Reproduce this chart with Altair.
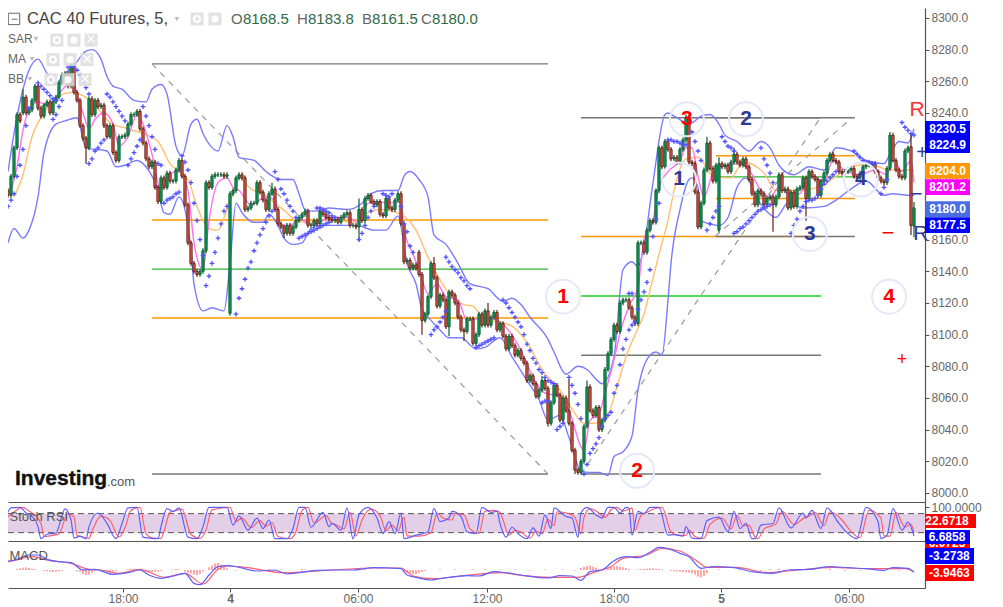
import altair as alt
import pandas as pd

FONT = "Liberation Sans"
LEFT_I, RIGHT_I = 1.0, 306.67
DOM_MAIN = [7994.3, 8306.3]
DOM_RSI = [-6.3, 116.7]
DOM_MACD = [-54, 87]

# ---------- candles (closing prices by stretch of the chart) ----------
closes_a = [8191,8188,8200,8218,8239,8235,8250,8240,8242,8248,8257,8243,8238,8245,8247,8240,8247,8250,8259,8264,
            8265,8257,8270,8253,8248,8232,8224,8218,8249,8239,8248,8244,8245,8232,8225,8232,8215,8210,8225,8225,
            8226,8233,8239,8239,8241,8230,8221,8211,8206,8209,8193,8184,8199,8193,8202,8197,8197,8204,8210,8200,
            8182,8158,8145,8140,8138,8140,8153,8196,8193,8200,8201,8201,8201,8200,8201,8189]
closes_b = [8191,8199,8201,8199,8179,8180,8183,8183,8196,8190,8185,8179,8189,8192,8179,8170,8168,8164,8169,8164,
            8168,8172,8174,8176,8178,8169,8169,8172,8170,8178,8176,8174,8173,8172,8173,8171,8174,8176,8177,8169,
            8169,8168,8179,8172,8186,8188,8184,8182,8184,8176,8175,8186,8180,8179,8185,8189,8170,8146,8147,8142,
            8144,8142,8138,8109,8113,8124,8145,8136,8118,8125,8122,8105,8127,8125,8120,8111,8103,8102,8110]
closes_c = [8110,8094.5,8100,8113,8106,8115,8106,8111,8114,8103,8107,8099,8091,8099,8093,8087,8090,8085,8082,8071,
            8074,8069,8061,8065,8071,8066,8044,8057,8068,8062,8046,8060,8052,8044,8027,8014.5,8013,8020,8042,8067,
            8052,8049,8054,8040,8046,8078,8088,8097,8106,8102,8120,8122,8122,8117,8111,8107,8158]
closes_d = [8158,8152,8166,8172,8171,8191,8218,8206,8222,8217,8211,8212,8209,8217,8223,8237,8209,8208,8190,8168,
            8183,8204,8221,8205,8197,8207,8208,8206,8207,8203,8209,8214,8209,8207,8211,8206,8198,8189,8182,8191,
            8189,8182,8186]
closes_e = [8187,8182,8187,8201,8191,8192,8180,8190,8181,8192,8193,8199,8186,8203,8200,8198,8188,8197,8202,8210,
            8214,8210,8209,8203,8202,8203,8204,8205,8200,8199,8202,8206,8207,8207,8208,8203,8199,8197,8196,8205,
            8226,8210,8204,8200,8199,8216,8218,8169,8180]
closes = closes_a + closes_b + closes_c + closes_d + closes_e
open_gaps = {0: 8186, 5: 8239, 6: 8240, 75: 8113.5, 138: 8152, 211: 8107, 238: 8166, 302: 8218.7, 303: 8168.5}
high_wicks = {6: 8255, 22: 8271, 89: 8196, 118: 8186, 143: 8149, 161: 8120, 179: 8074, 188: 8072, 194: 8071,
              227: 8239, 234: 8225, 238: 8212, 243: 8218, 295: 8228, 302: 8227, 303: 8183.8}
low_wicks = {27: 8208, 93: 8161, 118: 8159, 139: 8100, 148: 8099, 153: 8096, 181: 8042, 190: 8012,
             256: 8165, 267: 8172, 302: 8163, 303: 8161.5}

# ---------- parabolic SAR: (first bar, prices) ----------
sar_runs = [
    (1, [8181,8185,8189,8200,8207,8217,8232,8243]),
    (11, [8259,8257,8255,8253,8251,8249,8248]),
    (16, [8236,8239,8244,8248,8261,8269]),
    (22, [8270,8269,8267,8264,8260,8256,8252]),
    (28, [8208,8211,8216,8218,8221,8223]),
    (34, [8252,8250,8247,8244,8241,8238,8235]),
    (41, [8207,8211,8215,8219,8223]),
    (46, [8244,8238,8232,8225,8217,8208,8207]),
    (53, [8183,8185,8186,8187,8189,8190]),
    (59, [8213,8209,8204,8196,8183,8172,8160,8150]),
    (67, [8131,8137,8145,8152,8161,8170,8178,8181]),
    (77, [8113,8123,8129,8135,8142,8146,8153,8158,8163,8167,8171,8175,8178]),
    (90, [8203,8198,8192,8189,8185,8181,8178,8174]),
    (98, [8161,8162,8163,8164,8165,8166,8167,8168,8169,8170,8171]),
    (104, [8180,8180,8179,8178,8177,8175,8174]),
    (118, [8160,8164,8169,8174,8178,8181]),
    (126, [8189,8188,8187,8189]),
    (132, [8181,8170,8165,8156,8152]),
    (142, [8100,8103,8105,8108,8111,8115]),
    (147, [8149,8146,8143,8141,8139,8136,8134,8131,8129]),
    (157, [8092,8093,8094,8095,8096,8097,8098]),
    (166, [8122,8120,8117,8114,8111,8108,8105,8100,8094,8090,8085,8082,8078,8076,8073,8071,8070,8069]),
    (179, [8057,8058,8058]),
    (184, [8040,8042,8044]),
    (188, [8073,8068,8063,8056,8047]),
    (193, [8012,8018,8025,8028,8031,8035,8042,8047,8049,8051,8063,8068,8081,8091,8097,8103,8106,8108,8116,8122,8127,8133,8141,8162,8173,8183]),
    (208, [8126,8126]),
    (221, [8223,8223,8222,8222,8221,8220,8220]),
    (229, [8228,8222,8216,8210]),
    (234, [8166,8170,8174,8178,8181]),
    (239, [8225,8222,8219,8218,8216]),
    (243, [8164,8165,8167,8168,8170,8172,8174,8176,8178,8179,8180,8181,8182]),
    (252, [8218,8211,8207,8202,8196]),
    (262, [8164,8169,8173,8178,8181,8184,8185,8185,8186,8188,8192,8195,8197,8199,8201,8203]),
    (283, [8216,8214,8212,8210,8209,8209,8208,8208]),
    (292, [8189,8193,8198]),
    (299, [8234,8231,8229,8227,8226]),
]

# ---------- Bollinger bands and moving averages ----------
bb_up_i = [1,3,6,8,11,14,17,19,23,27,29,32,34,36,39,43,47,49,52,54,57,59,62,64,66,71,74,76,78,83,87,92,96,98,100,103,108,114,119,122,126,131,133,135,138,141,143,147,151,155,161,166,169,172,175,181,183,187,191,194,197,199,203,206,209,211,213,216,220,221,223,224,228,230,232,235,238,240,244,248,252,255,258,260,263,268,273,277,282,287,293,295,298,301,303]
bb_up_p = [8203,8227,8255,8267,8274,8265,8258,8263,8270,8279,8280,8274,8263,8257,8255,8248,8247,8255,8258,8252,8219,8213,8233,8236,8227,8216,8232,8225,8212,8210,8203,8198,8198,8189,8179,8178,8180,8179,8183,8189,8191,8191,8200,8203,8198,8187,8163,8157,8145,8132,8129,8121,8123,8119,8111,8097,8089,8075,8080,8078,8072,8069,8086,8141,8146,8143,8156,8196,8239,8240,8238,8237,8233,8235,8238,8239,8233,8226,8222,8216,8222,8218,8207,8203,8201,8206,8204,8218,8216,8210,8208,8214,8222,8221,8230]
bb_lo_i = [1,3,6,8,11,13,17,20,24,27,34,37,40,44,47,51,53,55,58,60,62,63,66,69,73,75,77,79,83,86,88,91,93,96,99,102,105,112,117,123,127,131,134,137,139,142,145,148,152,157,160,165,169,174,178,181,185,188,192,195,198,201,203,206,209,211,215,217,219,221,222,225,228,229,231,232,235,238,241,244,247,251,255,257,261,266,273,277,282,287,293,296,301,303]
bb_lo_p = [8158,8167,8161,8166,8187,8215,8233,8235,8237,8218,8216,8206,8207,8210,8206,8191,8177,8176,8187,8179,8153,8132,8115,8117,8115,8145,8183,8177,8171,8171,8176,8169,8161,8157,8158,8167,8169,8169,8169,8166,8166,8175,8145,8132,8116,8109,8103,8098,8098,8091,8092,8098,8086,8071,8059,8046,8049,8035,8014,8013,8013,8011,8023,8026,8036,8065,8087,8089,8087,8122,8145,8179,8198,8199,8193,8172,8170,8169,8174,8193,8199,8185,8176,8174,8183,8180,8181,8185,8192,8197,8188,8189,8188,8188]
ma_fast_i = [2,4,6,8,11,14,17,21,23,24,26,28,30,33,36,38,41,44,46,49,52,55,58,61,63,66,68,71,74,76,78,82,87,90,92,95,98,103,108,114,118,121,124,128,132,133,136,138,141,144,147,151,154,160,165,172,176,180,185,188,193,195,198,200,203,205,208,211,213,216,218,221,225,227,229,231,233,236,240,245,248,252,255,258,261,265,268,273,276,279,285,290,294,296,299,302,303]
ma_fast_p = [8191,8206,8229,8242,8247,8245,8250,8258,8259,8251,8240,8230,8236,8240,8233,8219,8225,8239,8233,8214,8191,8202,8203,8191,8158,8141,8172,8196,8199,8193,8191,8182,8187,8185,8169,8169,8173,8169,8174,8174,8171,8183,8184,8183,8184,8166,8151,8141,8126,8132,8124,8122,8109,8111,8108,8090,8073,8063,8061,8052,8027,8046,8050,8063,8084,8101,8118,8130,8160,8172,8193,8203,8210,8218,8218,8200,8187,8202,8207,8208,8204,8191,8187,8193,8189,8189,8200,8197,8210,8205,8201,8204,8201,8211,8203,8210,8196]
ma_slow_i = [3,6,9,13,17,22,26,30,35,41,46,51,55,61,64,68,71,74,76,78,82,86,90,94,97,102,108,116,121,125,132,137,141,144,148,153,156,160,165,170,175,179,185,189,193,196,200,204,207,211,213,215,219,221,223,227,231,236,242,246,253,257,264,271,277,284,289,295,303]
ma_slow_p = [8187,8201,8225,8240,8249,8253,8251,8245,8234,8230,8227,8222,8208,8198,8181,8167,8166,8179,8189,8199,8192,8189,8183,8177,8172,8171,8173,8171,8177,8179,8176,8166,8149,8138,8126,8119,8118,8109,8108,8104,8092,8078,8065,8053,8044,8044,8046,8067,8086,8104,8113,8128,8158,8172,8191,8211,8212,8200,8199,8209,8202,8191,8191,8193,8200,8207,8207,8204,8204]

# ---------- studies ----------
rsi_blue_i = [0,2,5,7,9,11,12,14,17,20,22,23,25,27,28,31,34,37,39,41,44,46,48,51,52,54,56,58,61,64,66,68,74,76,78,81,84,86,88,90,94,96,98,100,102,106,108,109,112,114,116,118,121,124,126,128,130,132,133,137,141,143,145,148,149,152,154,157,159,162,164,165,167,169,171,174,176,178,180,182,183,187,189,191,192,194,197,199,201,203,205,207,208,209,211,213,215,218,221,223,226,227,229,232,234,238,241,243,245,247,249,250,252,256,258,262,266,267,269,272,274,278,281,284,287,291,292,294,296,299,301,303]
rsi_blue_v = [62,98,100,82,71,39,1,15,19,95,60,3,9,1,39,82,49,1,49,98,100,6,3,1,39,96,87,98,6,1,39,100,100,44,73,28,66,33,60,1,1,33,100,100,37,84,39,49,28,98,1,76,100,66,17,55,17,82,1,12,23,96,55,66,87,71,23,17,100,84,87,49,6,37,17,1,35,9,76,33,98,71,66,6,82,100,76,66,100,100,82,100,98,12,87,80,100,100,12,14,9,39,3,1,58,69,23,87,33,49,1,1,44,49,98,35,82,66,90,33,98,49,17,1,100,55,1,12,96,28,53,9]
rsi_red_i = [1,3,6,8,10,12,13,15,18,21,23,24,26,28,29,32,35,38,40,42,45,47,49,52,53,55,57,59,62,65,67,69,75,77,79,82,85,87,89,91,95,97,99,101,103,107,109,110,113,115,117,119,122,125,127,129,131,133,134,138,142,144,146,149,150,153,155,158,160,163,165,166,168,170,172,175,177,179,181,183,184,188,190,192,193,195,198,200,202,204,206,208,209,210,212,214,216,219,222,224,227,228,230,233,235,239,242,244,246,248,250,251,253,257,259,263,267,268,270,273,275,279,282,285,288,292,293,295,297,300,302,303]
rsi_red_v = [70,85,100,88,75,48,8,10,17,80,70,12,6,2,25,72,58,6,36,90,100,16,4,2,24,84,90,94,14,2,28,92,100,55,66,36,58,40,52,8,1,24,90,100,50,74,48,46,32,84,10,60,94,74,26,44,26,68,10,9,20,82,66,60,80,76,32,18,88,90,84,60,12,28,22,3,25,16,62,42,86,80,68,16,68,96,82,68,92,100,88,94,98,28,74,84,94,100,22,13,11,28,8,2,46,66,32,74,42,44,6,1,32,48,88,46,70,72,84,42,86,60,24,4,90,66,10,9,84,38,46,20]
macd_blue_i = [0,4,8,11,14,18,22,26,30,36,41,45,48,52,56,60,63,65,68,71,74,78,84,90,94,98,104,109,116,123,132,134,137,142,147,154,158,163,165,172,181,185,189,192,195,199,203,207,211,215,218,221,225,228,232,236,243,249,256,261,268,275,281,287,293,296,301,303]
macd_blue_v = [25,32,45,45,32,25,22,0,2,-13,-8,0,-15,-25,-18,-10,-40,-44,-15,10,13,8,-3,0,-12,-8,-1,0,0,7,4,-15,-22,-30,-23,-17,-18,-5,-6,-15,-24,-17,-18,-31,-5,0,28,40,37,53,68,64,50,40,5,10,7,-5,-10,0,2,10,7,4,-1,7,5,-7]
macd_red_i = [0,4,9,15,22,28,32,38,45,53,60,66,71,74,80,93,109,123,132,136,143,154,165,172,182,191,197,202,206,214,219,225,231,234,244,254,261,276,287,300,303]
macd_red_v = [22,30,40,28,20,2,0,-10,2,-22,-10,-42,2,12,8,-8,0,6,6,-18,-26,-16,-8,-16,-22,-22,-5,10,35,45,65,57,25,8,8,-8,-3,8,4,4,-5]
hist_i = [4,5,6,7,8,9,10,13,14,15,16,17,18,19,24,25,26,27,28,29,30,33,34,35,36,37,41,42,43,44,45,47,48,49,50,51,52,56,57,58,60,61,62,63,64,65,66,68,69,70,71,72,73,74,77,80,88,92,99,100,103,110,115,120,133,134,135,136,137,138,139,140,145,150,156,160,165,170,175,180,186,190,192,193,194,195,196,197,198,201,202,203,204,205,206,207,208,211,212,213,214,215,216,217,218,219,222,223,224,225,226,227,228,229,230,231,232,233,234,238,245,247,250,252,255,258,262,265,270,275,280,285,292,298]
hist_v = [3,5,7,8,6,4,3,-3,-4,-5,-6,-5,-4,-3,-4,-6,-12,-15,-14,-8,-3,-3,-5,-6,-5,-3,3,4,4,3,2,-4,-5,-6,-6,-5,-3,2,3,2,-5,-8,-10,-14,-15,-12,-5,8,14,20,21,16,10,5,-2,2,3,2,3,2,-2,2,2,2,-6,-8,-10,-13,-12,-9,-6,-3,2,2,2,2,2,2,-2,2,2,-2,6,9,12,13,10,7,3,6,9,11,12,10,8,6,3,2,3,3,4,5,5,4,3,2,-3,-4,-4,-5,-6,-7,-8,-10,-14,-20,-22,-18,-10,2,-2,-3,-3,-4,3,4,3,-2,2,3,-2,-2,2,-2]

# ---------- drawn levels ----------
levels = [
    (49, 181, 8271, "#777777"), (49, 181, 8172.4, "#ff9800"), (49, 181, 8141.4, "#2fb52f"),
    (49, 181, 8110.5, "#ff9800"), (49, 181, 8012, "#777777"),
    (192, 272, 8237, "#777777"), (192, 272, 8162, "#ff9800"), (192, 272, 8124.4, "#22cc22"),
    (192, 272, 8087, "#777777"), (192, 272, 8012, "#777777"),
    (237, 283.3, 8237, "#777777"), (237, 283.3, 8213, "#ff9800"), (237, 283.3, 8199.6, "#2fb52f"),
    (237, 283.3, 8186, "#ff9800"), (237, 283.3, 8162, "#777777"),
]
diagonals = [(49, 181, 8271, 8012), (192, 272, 8012, 8237.5), (236.7, 282.7, 8162, 8237.5)]
circles = [("1", 186, 8124, "#ff0000"), ("2", 210.7, 8014, "#ff0000"), ("3", 227.3, 8236, "#ff0000"),
           ("4", 294.7, 8124, "#ff0000"), ("1", 224.7, 8198, "#2f3a96"), ("2", 247, 8236, "#2f3a96"),
           ("3", 268.3, 8163.5, "#2f3a96"), ("4", 285.3, 8198, "#2f3a96")]
marks_txt = [("R", 304, 8242, "#ff3333", 21), ("R", 305.3, 8163.5, "#2f3a96", 21), ("−", 294.3, 8164, "#ff0000", 22),
             ("+", 299, 8084, "#ff0000", 18), ("+", 305.7, 8215, "#2f3a96", 20), ("−", 303.7, 8189, "#2f3a96", 22)]
tags_main = [("8230.5", 8229.9, "#0000ff"), ("8224.9", 8219.8, "#0000ff"), ("8204.0", 8203.4, "#ff9800"),
             ("8201.2", 8193.2, "#ff00ff"), ("8180.0", 8179.3, "#4a6ee0"), ("8177.5", 8169.2, "#0000ff")]
tag_hidden = [("6.0725", -12.6, "#ff0000", 321.67)]
tags_rsi = [("22.6718", 56.8, "#ff0000", 323.67), ("6.6858", 6.3, "#0000ff", 321.67)]
tags_macd = [("-3.2738", 42, "#0000ff", 323), ("-3.9463", -9, "#ff0000", 323)]
hdr_txt = [("CAC 40 Futures, 5,", 7.3, 16.5, "#444444"), ("O", 75.3, 15, "#666666"), ("8168.5", 79.3, 15, "#2a6a48"),
           ("H", 97.3, 15, "#666666"), ("8183.8", 101, 15, "#2a6a48"), ("B", 119, 15, "#666666"),
           ("8161.5", 122.3, 15, "#2a6a48"), ("C", 138.7, 15, "#666666"), ("8180.0", 142.3, 15, "#2a6a48")]
legend_txt = [("SAR", 1, 8286.7), ("MA", 1, 8274), ("BB", 1, 8261.5)]
eye_i = [64, 17.3, 16, 15.3]
eye_p = [8299.4, 8286, 8273.7, 8261]
gear_i = [70, 23, 21.7, 21]
gear_p = [8299.4, 8286, 8273.7, 8261]
close_i = [28.7, 27.3, 26.7]
close_p = [8286, 8273.7, 8261]
arrow_i = [57.3, 10.3, 9, 8.3]
arrow_p = [8299.4, 8286.7, 8274, 8261.5]
x_ticks = [39.33, 75, 117.67, 160.67, 203, 238.67, 281.33]
x_labels = ["18:00", "4", "06:00", "12:00", "18:00", "5", "06:00"]
y_ticks = list(range(8000, 8301, 20))

DOMAIN = dict(domainColor="#555555", domainWidth=1.2, grid=False)
ax_flat_x = alt.Axis(labels=False, ticks=False, **DOMAIN)
label_map = "{" + ",".join(f"'{v}':'{t}'" for v, t in zip(x_ticks, x_labels)) + "}[datum.value]"
ax_macd_x = alt.Axis(values=x_ticks, labelExpr=label_map, tickSize=4, tickColor="#555555", labelColor="#666666",
                     labelFontSize=12, labelFont=FONT, labelPadding=1,
                     labelFontWeight=alt.expr("datum.value==75||datum.value==238.67?'bold':'normal'"), **DOMAIN)
ax_main_y = alt.Axis(orient="right", values=y_ticks, format=".1f", labelColor="#666666", labelFontSize=12, tickSize=4,
                     tickColor="#555555", labelPadding=2, labelFont=FONT, **DOMAIN)
ax_rsi_y = alt.Axis(orient="right", values=[100], format=".4f", labelColor="#666666", labelFontSize=12, tickSize=4,
                    tickColor="#555555", labelPadding=2, labelFont=FONT, **DOMAIN)
ax_macd_y = alt.Axis(orient="right", values=[42, -9], labels=False, tickSize=4, tickColor="#555555", **DOMAIN)
AX_X = {id(DOM_MAIN): ax_flat_x, id(DOM_RSI): ax_flat_x, id(DOM_MACD): ax_macd_x}
AX_Y = {id(DOM_MAIN): ax_main_y, id(DOM_RSI): ax_rsi_y, id(DOM_MACD): ax_macd_y}


def X(dom, f="i"):
    return alt.X(f"{f}:Q", scale=alt.Scale(domain=[LEFT_I, RIGHT_I], nice=False, zero=False, padding=0),
                 axis=AX_X[id(dom)], title=None)


def Y(dom, f="p"):
    return alt.Y(f"{f}:Q", scale=alt.Scale(domain=dom, nice=False, zero=False, padding=0), axis=AX_Y[id(dom)], title=None)


def line(xs, ys, color, dom, width=1.4):
    df = pd.DataFrame(dict(i=xs, p=ys))
    return alt.Chart(df).mark_line(color=color, strokeWidth=width, clip=True, interpolate="monotone").encode(
        x=X(dom), y=Y(dom))


def txt(dom, label, i, p, size, color, **kw):
    df = pd.DataFrame(dict(t=[label], i=[i], p=[p]))
    return alt.Chart(df).mark_text(font=FONT, fontSize=size, align="left", baseline="middle", color=color, **kw).encode(
        x=X(dom), y=Y(dom), text="t:N")


def tag_layers(dom, df, half, ic):
    df = df.copy()
    df["i"], df["ic"] = RIGHT_I, ic
    df["hi"], df["lo"] = df.p + half, df.p - half
    return [
        alt.Chart(df).mark_rect().encode(x=X(dom), x2="i2:Q", y=Y(dom, "lo"), y2="hi:Q", color=alt.Color("col:N", scale=None)),
        alt.Chart(df).mark_text(font=FONT, fontSize=12, fontWeight="bold", color="white", baseline="middle").encode(
            x=X(dom, "ic"), y=Y(dom), text="t:N"),
    ]


# ---------- candle table ----------
rows = []
for k, c in enumerate(closes):
    o = open_gaps.get(k, closes[k - 1] if k else c)
    h = high_wicks.get(k, max(o, c) + 1.5)
    l = low_wicks.get(k, min(o, c) - 1.5)
    rows.append(dict(i=k, o=o, c=c, h=h, l=l, d="up" if c >= o else "dn"))
cdf = pd.DataFrame(rows)
cdf = cdf[cdf.i >= 1]
sar = pd.DataFrame([dict(i=s + n, p=v) for s, vals in sar_runs for n, v in enumerate(vals)])

lv = pd.DataFrame(levels, columns=["i", "i2", "p", "col"])
dg = pd.DataFrame(diagonals, columns=["i", "i2", "p", "p2"])
cc = pd.DataFrame(circles, columns=["t", "i", "p", "col"])
mt = pd.DataFrame(marks_txt, columns=["t", "i", "p", "col", "s"])
tg = pd.DataFrame(tags_main, columns=["t", "p", "col"])
tg["i2"] = 321.67
hd = pd.DataFrame(hdr_txt, columns=["t", "i", "s", "col"])
hd["p"] = 8299.4
lg = pd.DataFrame(legend_txt, columns=["t", "i", "p"])
eye = pd.DataFrame(dict(i=eye_i, p=eye_p))
gear = pd.DataFrame(dict(i=gear_i, p=gear_p))
cl = pd.DataFrame(dict(i=close_i, p=close_p, t=["×"] * len(close_i)))
ar = pd.DataFrame(dict(i=arrow_i, p=arrow_p))
all_icons = pd.concat([eye, gear, cl[["i", "p"]]])
D = DOM_MAIN
dark = alt.Scale(domain=["up", "dn"], range=["#0f5a34", "#5f1f14"])
body = alt.Scale(domain=["up", "dn"], range=["#04a85c", "#f2604e"])

main_layers = [
    alt.Chart(lv).mark_rule(clip=True, strokeWidth=1.3).encode(x=X(D), x2="i2:Q", y=Y(D), color=alt.Color("col:N", scale=None)),
    alt.Chart(dg).mark_rule(clip=True, strokeWidth=1.2, strokeDash=[6, 6], color="#999999").encode(
        x=X(D), x2="i2:Q", y=Y(D), y2="p2:Q"),
    line(bb_up_i, bb_up_p, "#7b7bff", D),
    line(bb_lo_i, bb_lo_p, "#7b7bff", D),
    line(ma_slow_i, ma_slow_p, "#ffbe70", D),
    line(ma_fast_i, ma_fast_p, "#ff70ee", D),
    alt.Chart(cdf).mark_rule(clip=True, strokeWidth=1.2).encode(
        x=X(D), y=Y(D, "l"), y2="h:Q", color=alt.Color("d:N", scale=dark, legend=None)),
    alt.Chart(cdf).mark_bar(clip=True, size=2.2, strokeWidth=1).encode(
        x=X(D), y=Y(D, "o"), y2="c:Q", fill=alt.Fill("d:N", scale=body, legend=None),
        stroke=alt.Stroke("d:N", scale=dark, legend=None)),
    alt.Chart(sar).mark_point(shape="M-1,0H1M0,-1V1", size=22, filled=False, strokeWidth=1.3, color="#4f4fff", opacity=1,
                              clip=True).encode(x=X(D), y=Y(D)),
    alt.Chart(cc).mark_point(size=1156, filled=False, stroke="#e3e9f8", strokeWidth=2, opacity=1).encode(x=X(D), y=Y(D)),
    alt.Chart(cc).mark_text(font=FONT, fontSize=21, fontWeight="bold", baseline="middle").encode(
        x=X(D), y=Y(D), text="t:N", color=alt.Color("col:N", scale=None)),
    alt.Chart(mt).mark_text(font=FONT, baseline="middle").encode(
        x=X(D), y=Y(D), text="t:N", color=alt.Color("col:N", scale=None), size=alt.Size("s:Q", scale=None, legend=None)),
    *tag_layers(D, tg, 5, 314.2),
    alt.Chart(hd).mark_text(font=FONT, align="left", baseline="middle").encode(
        x=X(D), y=Y(D), text="t:N", color=alt.Color("col:N", scale=None), size=alt.Size("s:Q", scale=None, legend=None)),
    alt.Chart(pd.DataFrame(dict(i=[3], p=[8299.4]))).mark_point(shape="square", size=130, filled=False, color="#666666",
                                                                strokeWidth=1, opacity=1).encode(x=X(D), y=Y(D)),
    txt(D, "−", 1.9, 8299.4, 12, "#666666"),
    alt.Chart(all_icons).mark_point(shape="square", size=170, filled=True, color="#dddddd", opacity=0.85).encode(x=X(D), y=Y(D)),
    alt.Chart(eye).mark_point(shape="circle", size=40, filled=False, color="white", strokeWidth=2, opacity=1).encode(x=X(D), y=Y(D)),
    alt.Chart(gear).mark_point(shape="circle", size=50, filled=True, color="white", opacity=1).encode(x=X(D), y=Y(D)),
    alt.Chart(cl).mark_text(font=FONT, fontSize=18, color="white", baseline="middle").encode(x=X(D), y=Y(D), text="t:N"),
    alt.Chart(ar).mark_point(shape="triangle-down", size=22, filled=True, color="#bbbbbb", opacity=1).encode(x=X(D), y=Y(D)),
    alt.Chart(lg).mark_text(font=FONT, fontSize=12, align="left", baseline="middle", color="#666666").encode(
        x=X(D), y=Y(D), text="t:N"),
    txt(D, "Investing", 3.33, 8008.8, 21, "#111111", fontWeight="bold", stroke="#111111", strokeWidth=0.4),
    txt(D, ".com", 34, 8007, 13, "#555555"),
]
main = alt.layer(*main_layers).properties(width=917, height=494)

# ---------- Stoch RSI ----------
D = DOM_RSI
band = pd.DataFrame(dict(i=[LEFT_I], i2=[RIGHT_I], p=[20], p2=[80]))
lims = pd.DataFrame(dict(i=[LEFT_I, LEFT_I], i2=[RIGHT_I, RIGHT_I], p=[20, 80]))
rsi = alt.layer(
    alt.Chart(band).mark_rect(color="#e3cfe8").encode(x=X(D), x2="i2:Q", y=Y(D), y2="p2:Q"),
    alt.Chart(lims).mark_rule(color="#555555", strokeDash=[6, 4], strokeWidth=1).encode(x=X(D), x2="i2:Q", y=Y(D)),
    line(rsi_red_i, rsi_red_v, "#ff5f6f", D, 1.2),
    line(rsi_blue_i, rsi_blue_v, "#5f5fff", D, 1.2),
    *tag_layers(D, pd.DataFrame(tag_hidden, columns=["t", "p", "col", "i2"]), 22, 314),
    *tag_layers(D, pd.DataFrame(tags_rsi, columns=["t", "p", "col", "i2"]), 22, 314),
    txt(D, "Stoch RSI", 1.5, 70, 13, "#555555"),
).properties(width=917, height=39)

# ---------- MACD ----------
D = DOM_MACD
hs = pd.DataFrame(dict(i=hist_i, p=hist_v, z=[0] * len(hist_i)))
macd = alt.layer(
    alt.Chart(hs).mark_rule(color="#ff5050", strokeWidth=1, clip=True).encode(x=X(D), y=Y(D), y2="z:Q"),
    line(macd_red_i, macd_red_v, "#ff5f6f", D, 1.2),
    line(macd_blue_i, macd_blue_v, "#5f5fff", D, 1.2),
    *tag_layers(D, pd.DataFrame(tags_macd, columns=["t", "p", "col", "i2"]), 24, 314.8),
    txt(D, "MACD", 1.5, 42, 13, "#555555"),
).properties(width=917, height=47)

chart = alt.vconcat(main, rsi, macd, spacing=0, bounds="flush").resolve_scale(
    x="independent", y="independent", color="independent", fill="independent", stroke="independent", size="independent"
).properties(padding={"left": -2, "top": 0, "right": 0, "bottom": 0}, background="white").configure_view(stroke=None).configure_axis(labelFont=FONT)

chart.save("out.html", embed_options={"renderer": "svg", "actions": False})
